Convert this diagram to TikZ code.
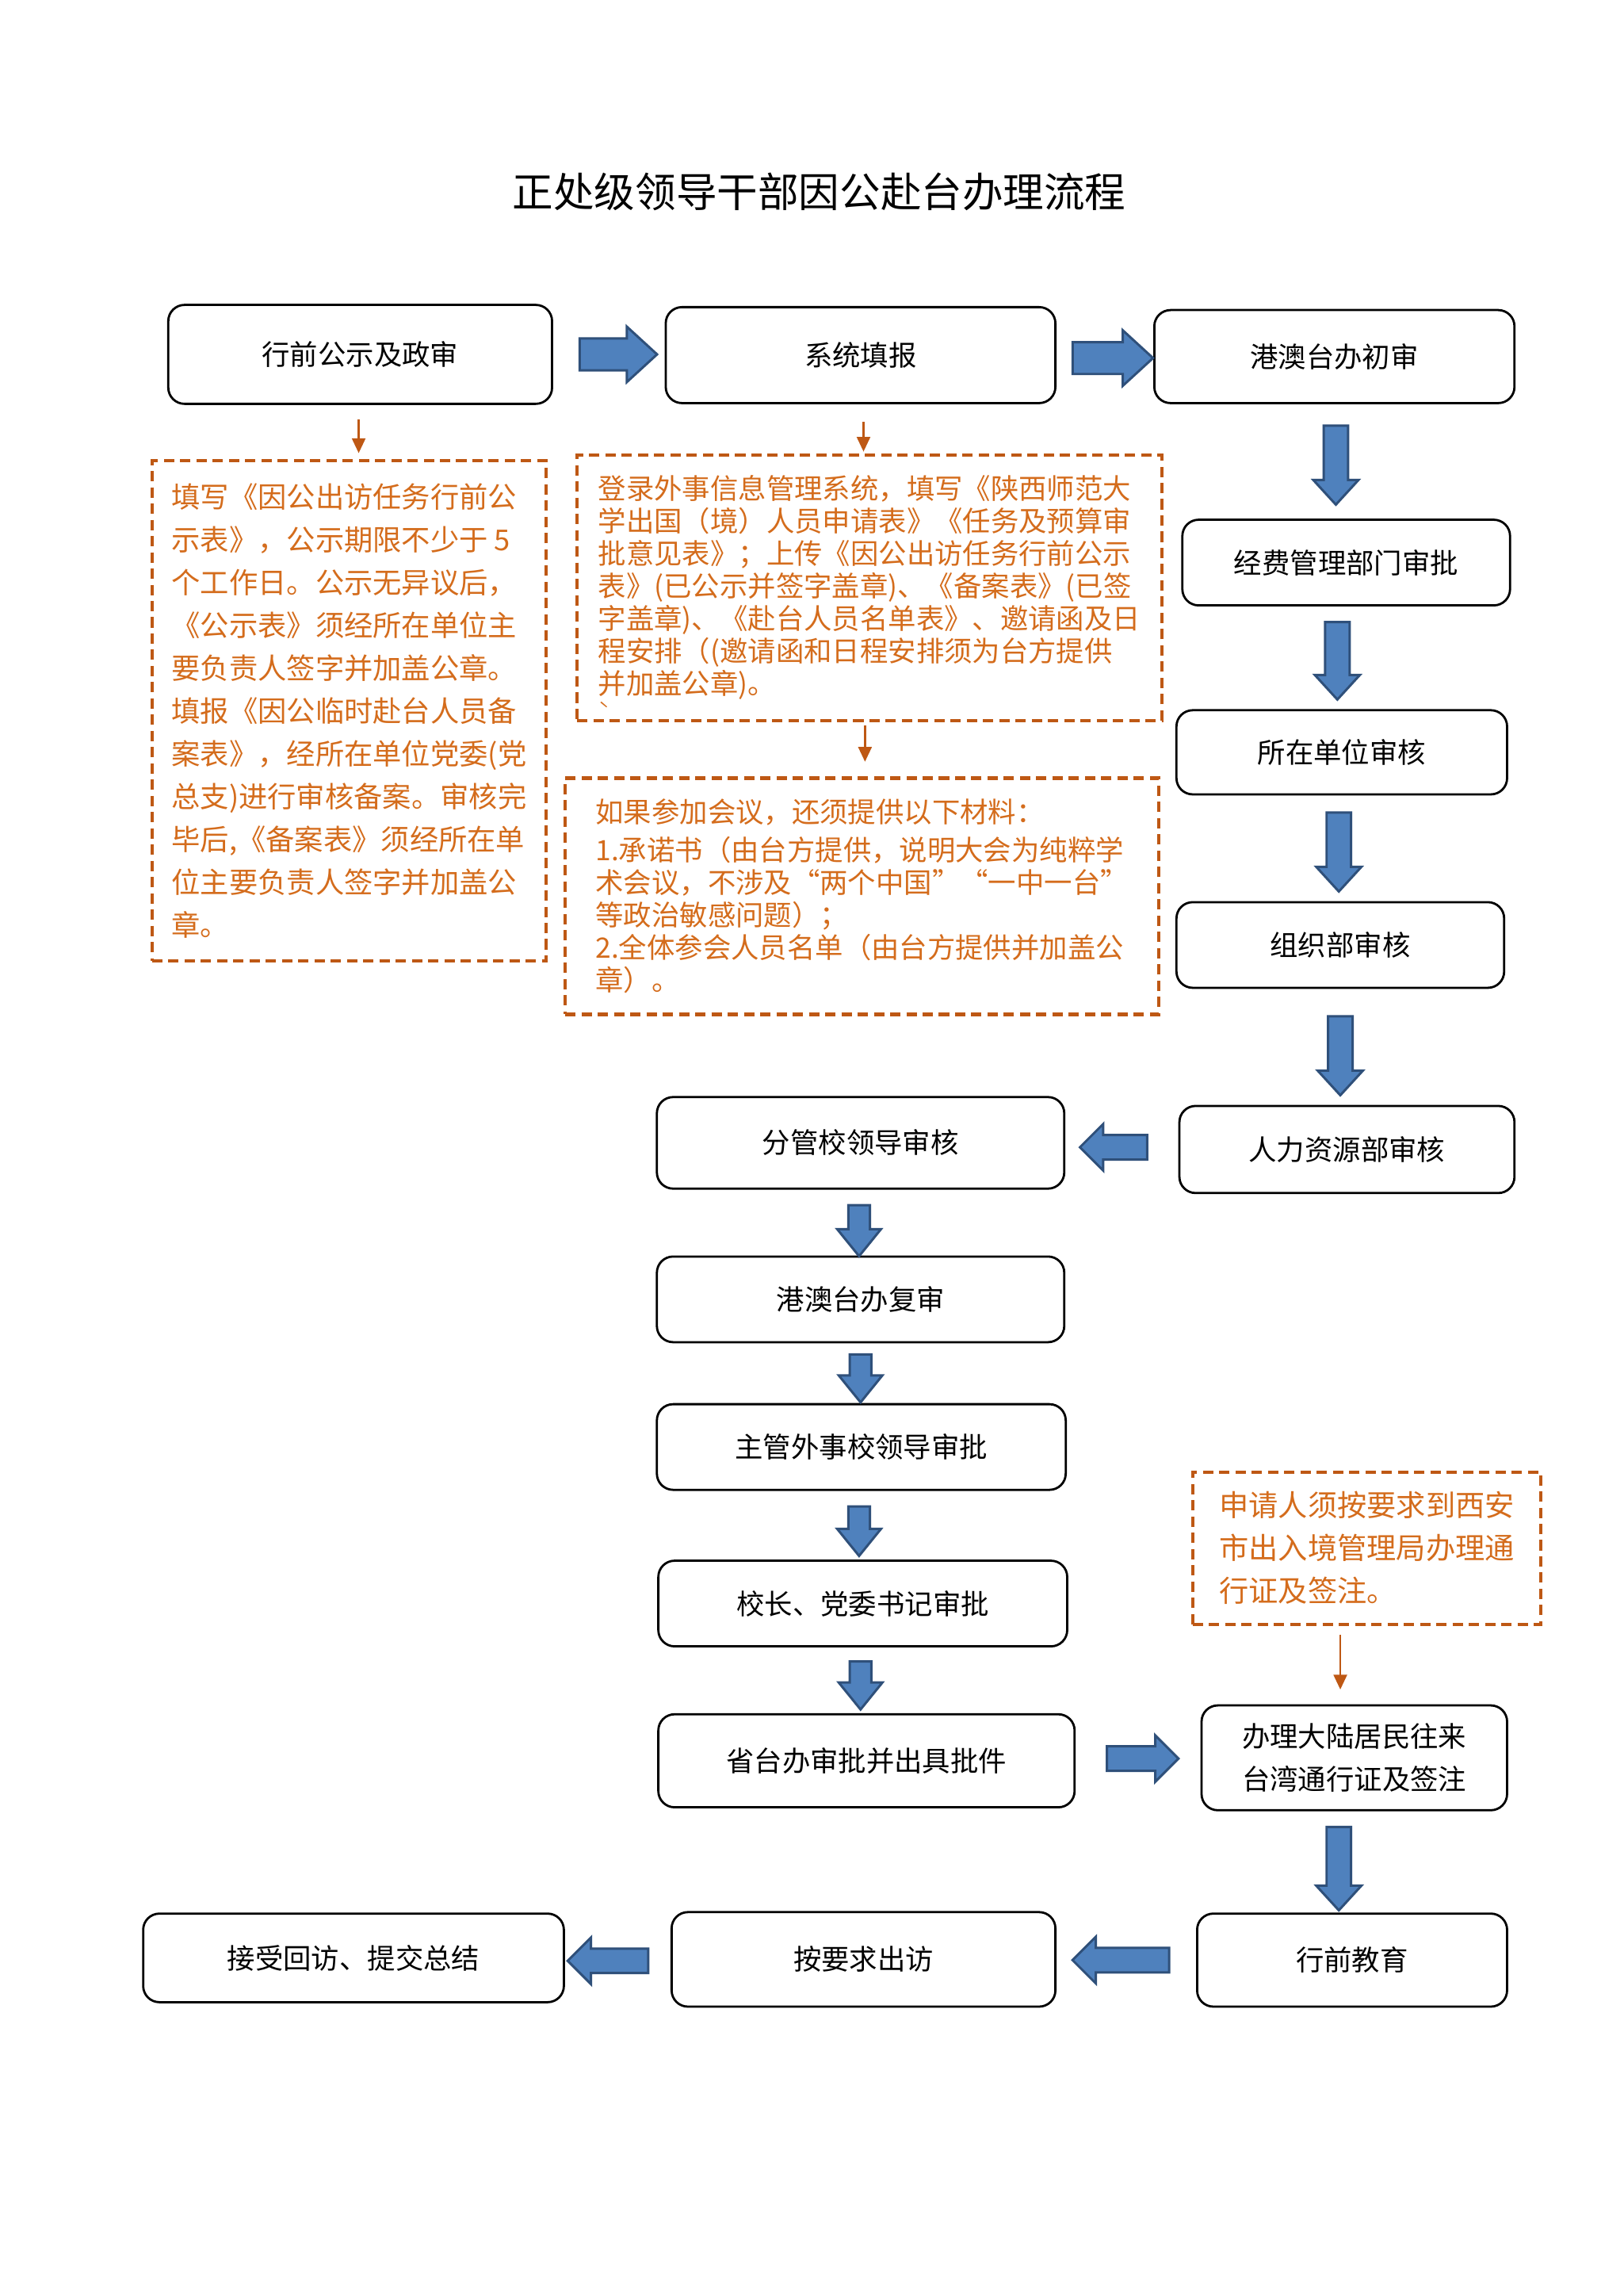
\documentclass[tikz,border=0pt]{standalone}
\usepackage{fontspec}
\setmainfont{Noto Sans CJK SC}
\usepackage{xcolor}
\usepackage{tikz}
\usetikzlibrary{shapes.arrows,calc,arrows.meta}

\definecolor{blkfill}{RGB}{79,129,189}
\definecolor{blkline}{RGB}{47,80,122}
\definecolor{notetext}{RGB}{212,108,28}
\definecolor{noteline}{RGB}{190,88,20}

\tikzset{
  stepbox/.style={draw, line width=1.5pt, rounded corners=11pt, font=\fontsize{19}{29}\selectfont, align=center, inner sep=0pt},
  notebox/.style={draw=noteline, line width=2.2pt, dash pattern=on 7pt off 4pt, text=notetext, align=left, inner sep=0pt},
  blkarr/.style={single arrow, draw=blkline, fill=blkfill, line width=1.6pt, inner xsep=0pt, single arrow tip angle=85},
  blktop/.style={inner ysep=10pt, single arrow head extend=8pt},
  blkv/.style={inner ysep=7.5pt, single arrow head extend=7pt},
  blkmid/.style={inner ysep=6.5pt, single arrow head extend=7.5pt, single arrow tip angle=78},
  blkside/.style={inner ysep=7.5pt, single arrow head extend=7.5pt, single arrow tip angle=90},
  thinarr/.style={draw=noteline, line width=1.5pt, -{Triangle[length=10pt,width=9pt]}}
}

\newcommand\blkarrow[3][]{%
  \path let \p1=(#2), \p2=(#3), \n1={atan2(\y2-\y1,\x2-\x1)}, \n2={veclen(\x2-\x1,\y2-\y1)} in
    ($(\p1)!.5!(\p2)$) node[blkarr, #1, minimum height=\n2, rotate=-\n1] {};}

\begin{document}
\begin{tikzpicture}[x=1pt,y=1pt,yscale=-1,xscale=1]

\useasboundingbox (0,0) rectangle (1100,1555);

\node[font=\fontsize{27.7}{30}\selectfont] (title) at (555,130) {正处级领导干部因公赴台办理流程};

\node[stepbox, minimum width=260, minimum height=67] (A) at (244,240) {行前公示及政审};

\node[stepbox, minimum width=264, minimum height=65] (B) at (583,240.5) {系统填报};

\node[stepbox, minimum width=244, minimum height=63] (C) at (904,241.5) {港澳台办初审};

\node[stepbox, minimum width=222, minimum height=58] (D) at (912,381) {经费管理部门审批};

\node[stepbox, minimum width=224, minimum height=57] (E) at (909,509.5) {所在单位审核};

\node[stepbox, minimum width=222, minimum height=58] (F) at (908,640) {组织部审核};

\node[stepbox, minimum width=227, minimum height=59] (G) at (912.5,778.5) {人力资源部审核};

\node[stepbox, minimum width=276, minimum height=62] (H) at (583,774) {分管校领导审核};

\node[stepbox, minimum width=276, minimum height=58] (I) at (583,880) {港澳台办复审};

\node[stepbox, minimum width=277, minimum height=58] (J) at (583.5,980) {主管外事校领导审批};

\node[stepbox, minimum width=277, minimum height=58] (K) at (584.5,1086) {校长、党委书记审批};

\node[stepbox, minimum width=282, minimum height=63] (L) at (587,1192.5) {省台办审批并出具批件};

\node[stepbox, minimum width=207, minimum height=71] (M) at (917.5,1190.5) {办理大陆居民往来\\台湾通行证及签注};

\node[stepbox, minimum width=210, minimum height=63] (O) at (916,1327.5) {行前教育};

\node[stepbox, minimum width=260, minimum height=64] (P) at (585,1327) {按要求出访};

\node[stepbox, minimum width=285, minimum height=60] (Q) at (239.5,1326) {接受回访、提交总结};

\node[notebox, minimum width=267, minimum height=339, font=\fontsize{19.5}{29}\selectfont] (T1) at (236.5,481.5) {填写《因公出访任务行前公\\示表》，公示期限不少于 5\\个工作日。公示无异议后，\\《公示表》须经所在单位主\\要负责人签字并加盖公章。\\填报《因公临时赴台人员备\\案表》，经所在单位党委(党\\总支)进行审核备案。审核完\\毕后,《备案表》须经所在单\\位主要负责人签字并加盖公\\章。};

\node[notebox, minimum width=396, minimum height=180, font=\fontsize{19}{22}\selectfont] (T2) at (589,398) {登录外事信息管理系统，填写《陕西师范大\\学出国（境）人员申请表》《任务及预算审\\批意见表》；上传《因公出访任务行前公示\\表》(已公示并签字盖章)、《备案表》(已签\\字盖章)、《赴台人员名单表》、邀请函及日\\程安排（(邀请函和日程安排须为台方提供\\并加盖公章)。};

\node[text=notetext, font=\fontsize{12}{12}\selectfont] (tick) at (409,480) {ˋ};

\node[notebox, minimum width=402, minimum height=160, font=\fontsize{19}{22}\selectfont] (T3) at (584,607) {如果参加会议，还须提供以下材料：\\[4pt]1.承诺书（由台方提供，说明大会为纯粹学\\术会议，不涉及“两个中国”“一中一台”\\等政治敏感问题）；\\2.全体参会人员名单（由台方提供并加盖公\\章）。};

\node[notebox, minimum width=236, minimum height=103, font=\fontsize{20}{29}\selectfont] (T4) at (926,1048.5) {申请人须按要求到西安\\市出入境管理局办理通\\行证及签注。};

\draw[thinarr] ($(A.south)+(-1,10)$) -- ($(A.south |- T1.north)+(-1,-4)$);

\draw[thinarr] ($(B.south)+(2,12)$) -- ($(B.south |- T2.north)+(2,-1)$);

\draw[thinarr] ($(T2.south)+(-3,2)$) -- ($(T2.south |- T3.north)+(-3,-10)$);

\draw[thinarr] ($(T4.south)+(-18,6)$) -- ($(T4.south |- M.north)+(-18,-10)$);

\blkarrow[blktop]{$(A.east)+(12,0)$}{$(A.east -| B.west)+(-11,0)$}

\blkarrow[blktop]{$(B.east)+(5,2)$}{$(B.east -| C.west)+(-6,2)$}

\blkarrow[blkv]{$(C.south)+(1,10)$}{$(C.south |- D.north)+(1,-14)$}

\blkarrow[blkv]{$(D.south)+(-6,6)$}{$(D.south |- E.north)+(-6,-11)$}

\blkarrow[blkv]{$(E.south)+(-2,7)$}{$(E.south |- F.north)+(-2,-11)$}

\blkarrow[blkv]{$(F.south)+(0,14)$}{$(F.south |- G.north)+(0,-11)$}

\blkarrow[blkside]{$(G.west)+(-17,-1.5)$}{$(G.west -| H.east)+(14,-1.5)$}

\blkarrow[blkmid]{$(H.south)+(-1,6)$}{$(H.south |- I.north)+(-1,-4)$}

\blkarrow[blkmid]{$(I.south)+(0,3)$}{$(I.south |- J.north)+(0,-5)$}

\blkarrow[blkmid]{$(J.south)+(-1.5,6)$}{$(J.south |- K.north)+(-1.5,-7)$}

\blkarrow[blkmid]{$(K.south)+(-1.5,5)$}{$(K.south |- L.north)+(-1.5,-7)$}

\blkarrow[blkside]{$(L.east)+(17,-1.5)$}{$(L.east -| M.west)+(-19,-1.5)$}

\blkarrow[blkv]{$(M.south)+(-10.5,6)$}{$(M.south |- O.north)+(-10.5,-6)$}

\blkarrow[blkside]{$(O.west)+(-14,0)$}{$(O.west -| P.east)+(15,0)$}

\blkarrow[blkside]{$(P.west)+(-11,1)$}{$(P.west -| Q.east)+(6,1)$}

\end{tikzpicture}
\end{document}
